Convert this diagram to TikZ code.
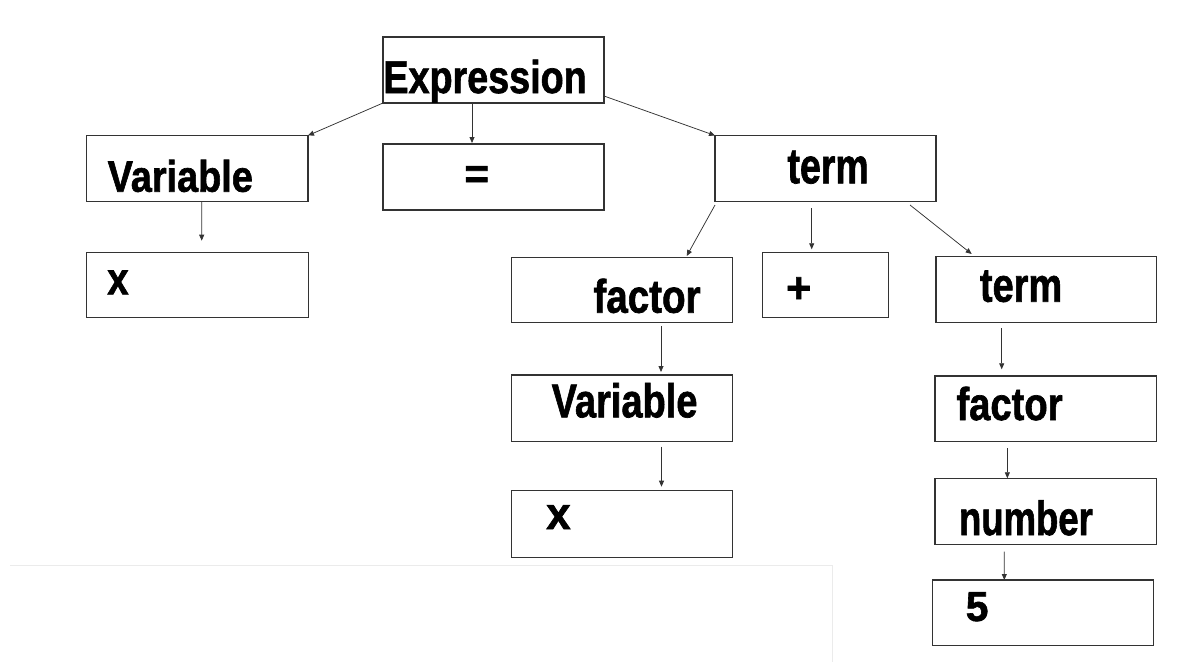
\documentclass[tikz,border=0pt]{standalone}
\usepackage{fontspec}
\setmainfont{Liberation Sans}
\newfontfamily\lblfont{Liberation Sans Bold}[FakeBold=1.5]
\usepackage{graphicx}
\usetikzlibrary{arrows.meta}
\newcommand\lbltxt[3]{\fontsize{#1}{#1}\selectfont\scalebox{#2}[1]{#3}}
\tikzset{
  box/.style={draw=black!80, line width=1.1pt, rectangle, inner sep=0pt, outer sep=0pt, fill=white},
  lbl/.style={inner sep=0pt, outer sep=0pt, font=\lblfont, text=black},
  arr/.style={draw=black!80, line width=0.75pt, -{Triangle[length=6pt,width=5pt]}},
  bgline/.style={draw=black!8, line width=0.8pt}
}
\begin{document}
\begin{tikzpicture}[x=1pt,y=-1pt]
\useasboundingbox (0,0) rectangle (1185,662);
\draw[bgline] (10,565) -- (832,565) -- (832,662);

% boxes
\node[box, minimum width=221pt, minimum height=66pt] (expr) at (493.5,70) {};
\node[box, minimum width=221.3pt, minimum height=66pt] (var1) at (197.35,168.5) {};
\node[box, minimum width=221pt, minimum height=66pt] (eq) at (493.5,177) {};
\node[box, minimum width=221pt, minimum height=66pt] (term1) at (825.5,168.5) {};
\node[box, minimum width=221.6pt, minimum height=64.6pt] (x1) at (197.5,285) {};
\node[box, minimum width=220.6pt, minimum height=65pt] (fac1) at (622,289.8) {};
\node[box, minimum width=126pt, minimum height=65pt] (plus) at (825.3,284.8) {};
\node[box, minimum width=220.7pt, minimum height=65.6pt] (term2) at (1046.35,289.5) {};
\node[box, minimum width=220.6pt, minimum height=66.7pt] (var2) at (622,408.35) {};
\node[box, minimum width=221.7pt, minimum height=65.7pt] (fac2) at (1045.85,408.85) {};
\node[box, minimum width=220.6pt, minimum height=66.6pt] (x2) at (622,524) {};
\node[box, minimum width=221.7pt, minimum height=65.6pt] (num) at (1045.85,511.5) {};
\node[box, minimum width=220.6pt, minimum height=65.7pt] (five) at (1043,612.85) {};

% labels
\node[lbl, anchor=base west] (texpr) at (383.4,93) {\lbltxt{46}{0.82}{Expression}};
\node[lbl, anchor=base west] (tvar1) at (107.7,191.7) {\lbltxt{44}{0.86}{Variable}};
\node[lbl, anchor=base] (teq) at (476.7,188) {\lbltxt{42}{1}{=}};
\node[lbl, anchor=base west] (tterm1) at (787.5,183.3) {\lbltxt{50}{0.75}{term}};
\node[lbl, anchor=base west] (tx1) at (107.3,294.3) {\lbltxt{45}{0.85}{x}};
\node[lbl, anchor=base west] (tfac1) at (593.5,312.7) {\lbltxt{47}{0.82}{factor}};
\node[lbl, anchor=base] (tplus) at (798.7,302.5) {\lbltxt{43}{1}{+}};
\node[lbl, anchor=base west] (tterm2) at (980,301.7) {\lbltxt{48}{0.79}{term}};
\node[lbl, anchor=base west] (tvar2) at (551.7,417.3) {\lbltxt{47.5}{0.80}{Variable}};
\node[lbl, anchor=base west] (tfac2) at (956.5,420) {\lbltxt{46}{0.83}{factor}};
\node[lbl, anchor=base west] (tx2) at (546.3,529) {\lbltxt{45}{0.97}{x}};
\node[lbl, anchor=base west] (tnum) at (959,535) {\lbltxt{48}{0.76}{number}};
\node[lbl, anchor=base west] (tfive) at (965.8,621) {\lbltxt{42}{0.97}{5}};

% connectors
\draw[arr] (expr.south west) -- (var1.north east);
\draw[arr] ([xshift=-21.5pt]expr.south) -- ([xshift=-21.5pt,yshift=1pt]eq.north);
\draw[arr] ([yshift=7pt]expr.south east) -- (term1.north west);
\draw[arr] ([xshift=4.35pt]var1.south) -- ([xshift=4.2pt,yshift=12pt]x1.north);
\draw[arr] ([yshift=-3.5pt]term1.south west) -- ([xshift=64.7pt,yshift=1.3pt]fac1.north);
\draw[arr] ([xshift=-13.8pt,yshift=-6.8pt]term1.south) -- ([xshift=-13.6pt,yshift=3pt]plus.north);
\draw[arr] ([xshift=-26pt,yshift=-3.5pt]term1.south east) -- ([xshift=35.7pt,yshift=2.7pt]term2.north west);
\draw[arr] ([xshift=39pt,yshift=-4pt]fac1.south) -- ([xshift=39pt,yshift=3pt]var2.north);
\draw[arr] ([xshift=39.5pt,yshift=-5pt]var2.south) -- ([xshift=39.5pt,yshift=4pt]x2.north);
\draw[arr] ([xshift=-44.65pt,yshift=-5.7pt]term2.south) -- ([xshift=-44.15pt,yshift=6.7pt]fac2.north);
\draw[arr] ([xshift=-38.5pt,yshift=-6.3pt]fac2.south) -- ([xshift=-38.5pt,yshift=0.4pt]num.north);
\draw[arr] ([xshift=-41.5pt,yshift=-7.4pt]num.south) -- ([xshift=-38.7pt]five.north);
\end{tikzpicture}
\end{document}
